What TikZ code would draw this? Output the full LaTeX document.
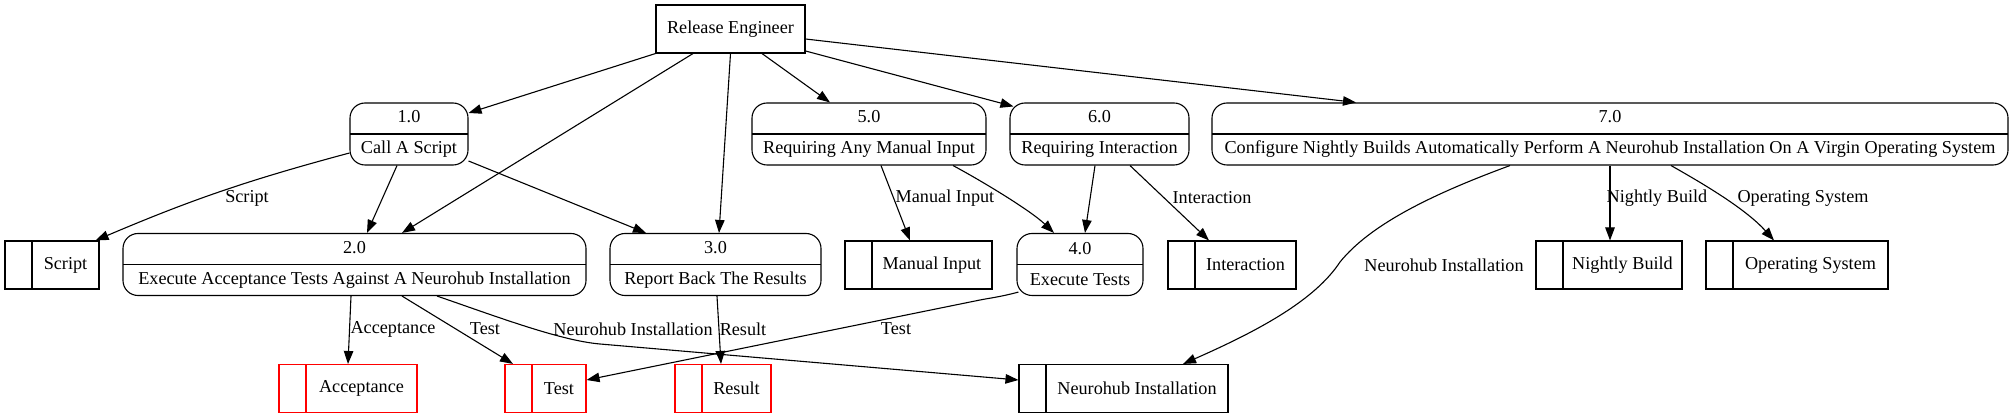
\documentclass[tikz,border=0pt]{standalone}
\usepackage{fontspec}
\setmainfont{Liberation Serif}
\usetikzlibrary{arrows.meta}

\begin{document}
\begin{tikzpicture}[x=1pt, y=-1pt, line width=1.1pt,
        font=\fontsize{18.2}{31}\selectfont,
        proc/.style={draw, rounded corners=15pt, minimum height=62pt, inner sep=0pt, align=center,
            path picture={\draw (path picture bounding box.west) -- (path picture bounding box.east);}},
        store/.style={draw=#1, minimum height=48pt, inner sep=0pt,
            path picture={\draw[#1] ([xshift=27pt]path picture bounding box.north west) -- ([xshift=27pt]path picture bounding box.south west);}},
        store/.default=black,
        flow/.style={-{Triangle[length=13pt, width=9.5pt]}}]
        \useasboundingbox (0,0) rectangle (2013,419);

        \node[draw, minimum width=149pt, minimum height=48pt, inner sep=0pt] (eng) at (730.5,29) {Release Engineer};

        \node[proc, minimum width=118pt] (p1) at (409,134) {1.0\\Call A Script};
        \node[proc, minimum width=234pt] (p5) at (869,134) {5.0\\Requiring Any Manual Input};
        \node[proc, minimum width=179pt] (p6) at (1099.5,134) {6.0\\Requiring Interaction};
        \node[proc, minimum width=796pt] (p7) at (1610,134) {7.0\\Configure Nightly Builds Automatically Perform A Neurohub Installation On A Virgin Operating System};
        \node[proc, minimum width=463pt] (p2) at (354.5,264.5) {2.0\\Execute Acceptance Tests Against A Neurohub Installation};
        \node[proc, minimum width=211pt] (p3) at (715.5,264.5) {3.0\\Report Back The Results};
        \node[proc, minimum width=126pt] (p4) at (1080,264.5) {4.0\\Execute Tests};

        \node[store, minimum width=94pt] (script) at (52,265) {\hspace*{27pt}Script};
        \node[store, minimum width=147pt] (manual) at (918.5,265) {\hspace*{27pt}Manual Input};
        \node[store, minimum width=128pt] (inter) at (1232,265) {\hspace*{27pt}Interaction};
        \node[store, minimum width=146pt] (nightly) at (1609,265) {\hspace*{27pt}Nightly Build};
        \node[store, minimum width=182pt] (os) at (1797,265) {\hspace*{27pt}Operating System};
        \node[store=red, minimum width=138pt] (acc) at (348,388.5) {\hspace*{27pt}Acceptance};
        \node[store=red, minimum width=81pt] (test) at (545.5,388.5) {\hspace*{27pt}Test};
        \node[store=red, minimum width=96pt] (result) at (723,388.5) {\hspace*{27pt}Result};
        \node[store, minimum width=209pt] (neuro) at (1123.5,388.5) {\hspace*{27pt}Neurohub Installation};

        \draw[flow] (eng.south west) -- ([yshift=21pt]p1.east);
        \draw[flow] ([xshift=-37.5pt]eng.south) -- ([xshift=47.5pt]p2.north);
        \draw[flow] (eng.south) -- ([xshift=3.5pt]p3.north);
        \draw[flow] ([xshift=31.5pt]eng.south) -- ([xshift=-39pt]p5.north);
        \draw[flow] ([yshift=-22pt]eng.east) -- ([xshift=4pt, yshift=-4pt]p6.north west);
        \draw[flow] ([yshift=-10pt]eng.east) -- ([xshift=-254pt]p7.north);

        \draw[flow] ([yshift=-19pt]p1.west) to[bend right=4] ([xshift=-4pt]script.north east);
        \node (lscript) at (247,198) {Script};
        \draw[flow] ([xshift=-12pt]p1.south) -- ([xshift=12.5pt]p2.north);
        \draw[flow] ([yshift=-27pt]p1.east) -- ([xshift=-69.5pt]p3.north);

        \draw[flow] ([xshift=-3.5pt]p2.south) -- (acc.north);
        \node (lacc) at (393,329) {Acceptance};
        \draw[flow] ([xshift=47.5pt]p2.south) -- ([xshift=-32.5pt]test.north);
        \node (ltest) at (485,329) {Test};
        \draw[flow] ([xshift=82.5pt]p2.south) .. controls (495,316) and (560,340.6) .. (600,344) -- ([yshift=8.5pt]neuro.west);
        \node (lneuro) at (633,329) {Neurohub Installation};

        \draw[flow] ([xshift=1.5pt]p3.south) -- ([xshift=-2pt]result.north);
        \node (lresult) at (743,329) {Result};

        \draw[flow] ([xshift=2pt, yshift=4pt]p4.south west) .. controls (1000,297) and (990,298) .. (980,300) -- ([yshift=8.5pt]test.east);
        \node (ltesttwo) at (896,329) {Test};

        \draw[flow] ([xshift=12pt]p5.south) -- ([xshift=-8.5pt]manual.north);
        \node (lmanual) at (945,198) {Manual Input};
        \draw[flow] ([xshift=84pt]p5.south) .. controls (980,180) and (1030,210) .. ([xshift=-26pt]p4.north);

        \draw[flow] ([xshift=-4.5pt]p6.south) -- ([xshift=5pt]p4.north);
        \draw[flow] ([xshift=30.5pt]p6.south) -- ([xshift=-23pt]inter.north);
        \node (linter) at (1212,198) {Interaction};

        \draw[flow] ([xshift=-100pt]p7.south) .. controls (1430,195) and (1370,225) .. (1340,262) .. controls (1315,300) and (1260,330) .. ([xshift=59.5pt]neuro.north);
        \node (lneurotwo) at (1444,265) {Neurohub Installation};
        \draw[flow] (p7.south) -- (p7.south |- nightly.north);
        \node (lnightly) at (1657,198) {Nightly Build};
        \draw[flow] ([xshift=61pt]p7.south) .. controls (1700,182) and (1745,208) .. ([xshift=-23pt]os.north);
        \node (los) at (1803,198) {Operating System};
    \end{tikzpicture}
\end{document}
